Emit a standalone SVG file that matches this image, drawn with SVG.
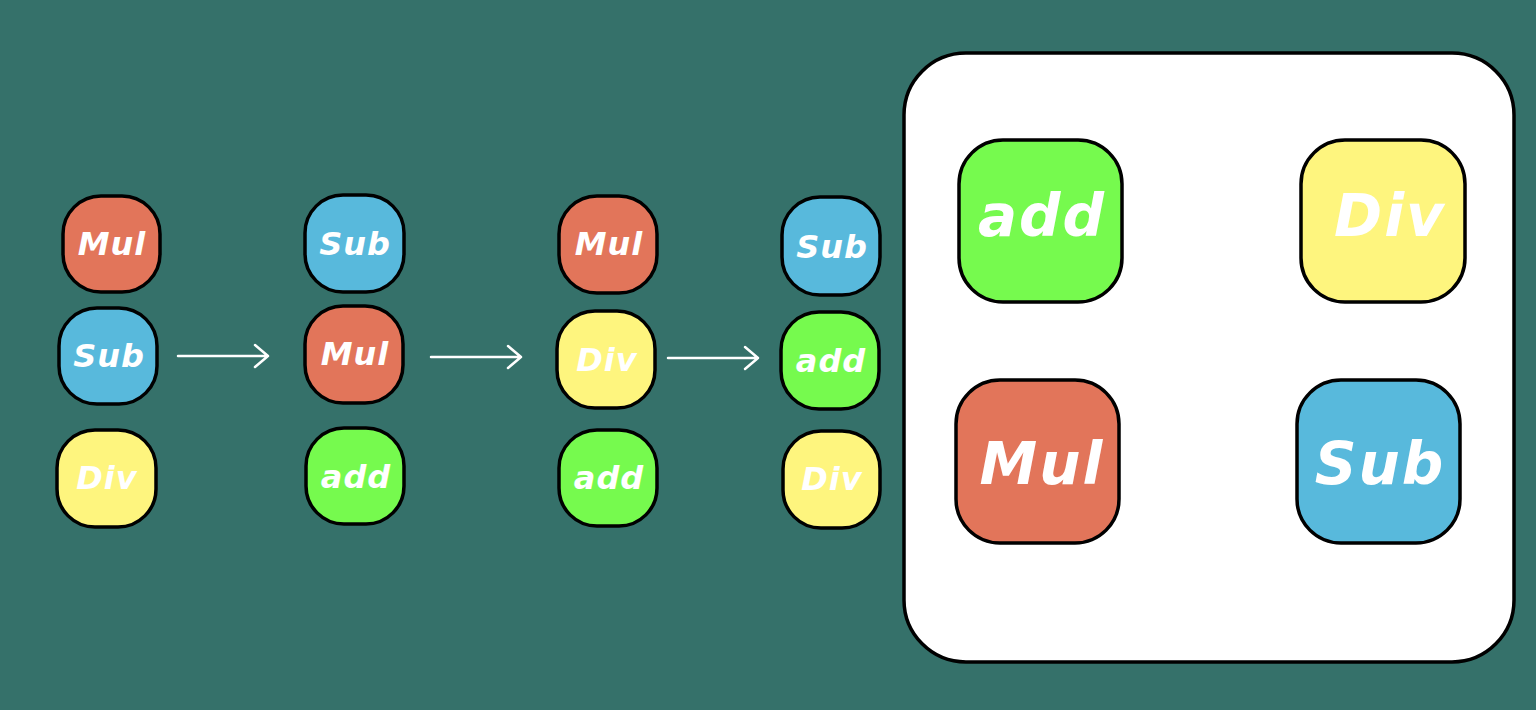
<svg xmlns="http://www.w3.org/2000/svg" width="1536" height="710" viewBox="0 0 1536 710">
<defs>
<style>
.n{stroke:#000;stroke-width:3.5}
.mul{fill:#E2755A}.sub{fill:#58B9DC}.div{fill:#FEF57E}.add{fill:#76FA4E}
.t{fill:#fff;font-family:"DejaVu Sans","Liberation Sans",sans-serif;font-weight:bold;font-style:italic;text-anchor:middle;dominant-baseline:central}
.s{font-size:32px;letter-spacing:1px}.b{font-size:58px;letter-spacing:2px}
.a{stroke:#fff;stroke-width:2.5;fill:none;stroke-linecap:round;stroke-linejoin:round}
</style>
</defs>
<rect width="1536" height="710" fill="#35716A"/>
<g id="container"><rect x="904" y="53" width="610" height="609" rx="62" fill="#fff" stroke="#000" stroke-width="3.5"/></g>
<g id="c1-mul"><rect class="n mul" x="63" y="196" width="97" height="96" rx="38"/><text class="t s" x="112" y="244">Mul</text></g>
<g id="c1-sub"><rect class="n sub" x="59" y="308" width="98" height="96" rx="38"/><text class="t s" x="109" y="356">Sub</text></g>
<g id="c1-div"><rect class="n div" x="57" y="430" width="99" height="97" rx="38"/><text class="t s" x="107" y="478">Div</text></g>
<g id="c2-sub"><rect class="n sub" x="305" y="195" width="99" height="97" rx="38"/><text class="t s" x="355" y="244">Sub</text></g>
<g id="c2-mul"><rect class="n mul" x="305" y="306" width="98" height="97" rx="38"/><text class="t s" x="355" y="354">Mul</text></g>
<g id="c2-add"><rect class="n add" x="306" y="428" width="98" height="96" rx="38"/><text class="t s" x="356" y="477">add</text></g>
<g id="c3-mul"><rect class="n mul" x="559" y="196" width="98" height="97" rx="38"/><text class="t s" x="609" y="244">Mul</text></g>
<g id="c3-div"><rect class="n div" x="557" y="311" width="98" height="97" rx="38"/><text class="t s" x="607" y="360">Div</text></g>
<g id="c3-add"><rect class="n add" x="559" y="430" width="98" height="96" rx="38"/><text class="t s" x="609" y="478">add</text></g>
<g id="c4-sub"><rect class="n sub" x="782" y="197" width="98" height="98" rx="38"/><text class="t s" x="832" y="247">Sub</text></g>
<g id="c4-add"><rect class="n add" x="781" y="312" width="98" height="97" rx="38"/><text class="t s" x="831" y="361">add</text></g>
<g id="c4-div"><rect class="n div" x="783" y="431" width="97" height="97" rx="38"/><text class="t s" x="832" y="479">Div</text></g>
<g id="b-add"><rect class="n add" x="959" y="140" width="163" height="162" rx="44"/><text class="t b" x="1042" y="216">add</text></g>
<g id="b-div"><rect class="n div" x="1301" y="140" width="164" height="162" rx="44"/><text class="t b" x="1390" y="216">Div</text></g>
<g id="b-mul"><rect class="n mul" x="956" y="380" width="163" height="163" rx="44"/><text class="t b" x="1042" y="464">Mul</text></g>
<g id="b-sub"><rect class="n sub" x="1297" y="380" width="163" height="163" rx="44"/><text class="t b" x="1380" y="464">Sub</text></g>
<g id="connectors">
<path class="a" d="M178 356H268M255 345L268 356L255 367"/>
<path class="a" d="M431 357H521M508 346L521 357L508 368"/>
<path class="a" d="M668 358H758M745 347L758 358L745 369"/>
</g>
</svg>
